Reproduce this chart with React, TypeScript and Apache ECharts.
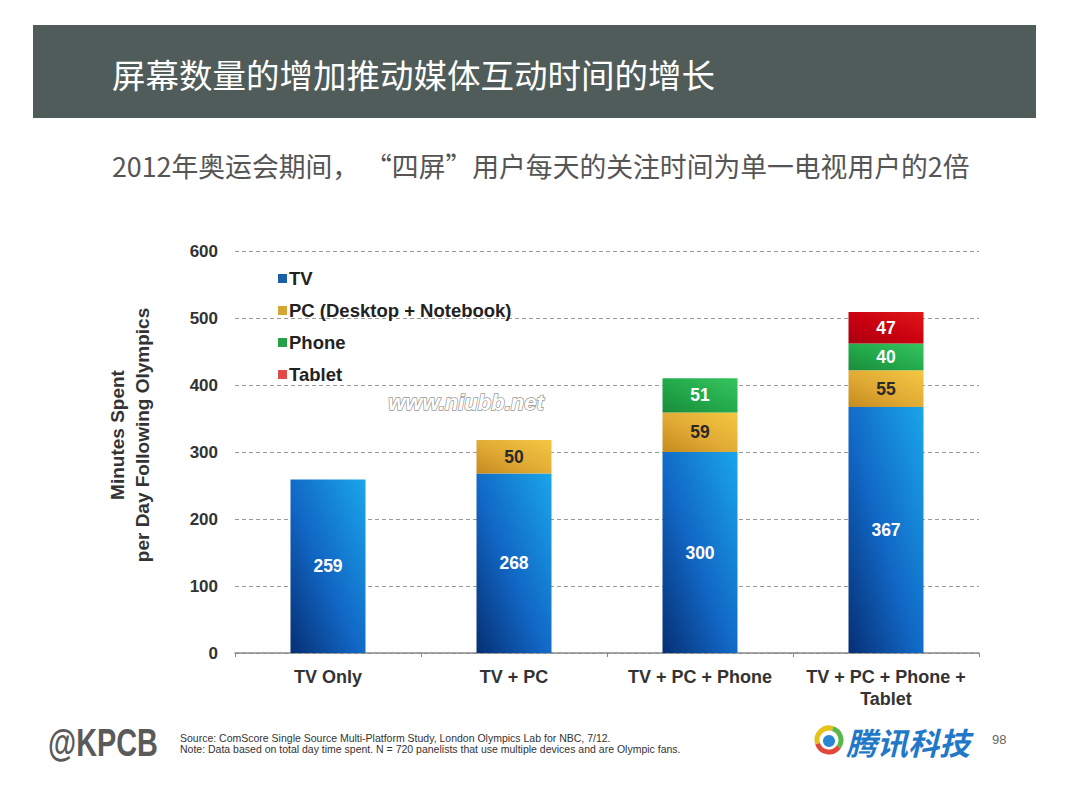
import React, { useEffect, useRef } from "react";
import * as echarts from "echarts";

const categories = ["TV Only", "TV + PC", "TV + PC + Phone", "TV + PC + Phone +\nTablet"];
const tvValues = [259, 268, 300, 367];
const pcValues = [null, 50, 59, 55];
const phoneValues = [null, null, 51, 40];
const tabletValues = [null, null, null, 47];
const seriesNames = ["TV", "PC (Desktop + Notebook)", "Phone", "Tablet"];
const yTicks = { min: 0, max: 600, interval: 100 };

const FONT = "'Liberation Sans', Arial, sans-serif";
const CJK = "'Noto Sans CJK SC', sans-serif";

function grad(c0: string, c1: string, c2: string) {
  return new echarts.graphic.LinearGradient(0, 1, 1, 0, [
    { offset: 0, color: c0 },
    { offset: 0.45, color: c1 },
    { offset: 1, color: c2 },
  ]);
}

export default function App() {
  const ref = useRef<HTMLDivElement>(null);
  useEffect(() => {
    if (!ref.current) return;
    const chart = echarts.init(ref.current, null, { renderer: "svg" });
    const labelBase = {
      show: true,
      position: "inside",
      fontFamily: FONT,
      fontWeight: "bold",
      fontSize: 17.5,
    };
    const mk = (name: string, data: any[], color: any, labelColor: string) => ({
      name,
      type: "bar",
      stack: "total",
      barWidth: 75,
      data,
      itemStyle: { color },
      label: { ...labelBase, color: labelColor },
      emphasis: { disabled: true },
    });
    const option: any = {
      animation: false,
      backgroundColor: "#ffffff",
      textStyle: { fontFamily: FONT },
      color: ["#1464b8", "#d8a42c", "#22a84a", "#e04040"],
      grid: { left: 235, top: 251, width: 744, height: 402 },
      legend: {
        orient: "vertical",
        left: 273,
        top: 264,
        itemWidth: 9,
        itemHeight: 9,
        itemGap: 13,
        icon: "rect",
        data: [
          { name: seriesNames[0], itemStyle: { color: "#1a5fa8" } },
          { name: seriesNames[1], itemStyle: { color: "#d6a634" } },
          { name: seriesNames[2], itemStyle: { color: "#27a04a" } },
          { name: seriesNames[3], itemStyle: { color: "#e24a4a" } },
        ],
        textStyle: {
          fontFamily: FONT,
          fontSize: 18.5,
          fontWeight: "bold",
          color: "#222",
          padding: [0, 0, 0, -3],
        },
        selectedMode: false,
      },
      xAxis: {
        type: "category",
        data: categories,
        axisLine: { lineStyle: { color: "#888", width: 1.5 } },
        axisTick: { show: true, length: 4, lineStyle: { color: "#888" } },
        axisLabel: {
          fontFamily: FONT,
          fontWeight: "bold",
          fontSize: 18,
          color: "#333",
          margin: 13,
          lineHeight: 22,
          interval: 0,
        },
      },
      yAxis: {
        type: "value",
        min: yTicks.min,
        max: yTicks.max,
        interval: yTicks.interval,
        axisLine: { show: false },
        axisTick: { show: false },
        axisLabel: {
          fontFamily: FONT,
          fontWeight: "bold",
          fontSize: 17,
          color: "#333",
          margin: 17,
        },
        splitLine: { lineStyle: { type: [4, 3], color: "#9a9a9a", width: 1 } },
      },
      series: [
        mk(seriesNames[0], tvValues, grad("#062f74", "#1166c4", "#1aa6ea"), "#ffffff"),
        mk(seriesNames[1], pcValues, grad("#c48a1e", "#e0aa34", "#f4c842"), "#2a2a2a"),
        mk(seriesNames[2], phoneValues, grad("#1a8c3a", "#22a84a", "#36c45e"), "#ffffff"),
        mk(seriesNames[3], tabletValues, grad("#a80010", "#c80010", "#e01818"), "#ffffff"),
      ],
      graphic: [
        { type: "rect", shape: { x: 33, y: 25, width: 1003, height: 93 }, style: { fill: "#505c59" } },
        {
          type: "text",
          x: 112,
          y: 73,
          style: {
            text: "屏幕数量的增加推动媒体互动时间的增长",
            fill: "#ffffff",
            font: `33.5px ${CJK}`,
            textVerticalAlign: "middle",
          },
        },
        {
          type: "text",
          x: 112,
          y: 165,
          style: {
            text: "2012年奥运会期间， “四屏”用户每天的关注时间为单一电视用户的2倍",
            fill: "#555555",
            font: `26.8px ${CJK}`,
            textVerticalAlign: "middle",
          },
        },
        {
          type: "text",
          x: 130,
          y: 435,
          rotation: Math.PI / 2,
          style: {
            text: "Minutes Spent\nper Day Following Olympics",
            fill: "#333",
            font: `bold 19px ${FONT}`,
            textAlign: "center",
            textVerticalAlign: "middle",
            lineHeight: 25,
          },
        },
        {
          type: "text",
          x: 466,
          y: 402,
          style: {
            text: "www.niubb.net",
            fill: "#ffffff",
            stroke: "#9a9a9a",
            lineWidth: 1.5,
            font: `italic bold 22px ${FONT}`,
            textAlign: "center",
            textVerticalAlign: "middle",
          },
        },
        {
          type: "text",
          x: 48,
          y: 742,
          scaleX: 0.76,
          style: {
            text: "@KPCB",
            fill: "#5a5a5a",
            font: `bold 38px ${FONT}`,
            textVerticalAlign: "middle",
          },
        },
        {
          type: "text",
          x: 180,
          y: 738,
          style: {
            text: "Source: ComScore Single Source Multi-Platform Study, London Olympics Lab for NBC, 7/12.",
            fill: "#333",
            font: `10.5px ${FONT}`,
            textVerticalAlign: "middle",
          },
        },
        {
          type: "text",
          x: 180,
          y: 749,
          style: {
            text: "Note: Data based on total day time spent. N = 720 panelists that use multiple devices and are Olympic fans.",
            fill: "#333",
            font: `10.5px ${FONT}`,
            textVerticalAlign: "middle",
          },
        },
        { type: "arc", shape: { cx: 829, cy: 740, r: 12, startAngle: Math.PI * 0.9, endAngle: Math.PI * 1.6 }, style: { stroke: "#e6c21a", lineWidth: 5, fill: "none" } },
        { type: "arc", shape: { cx: 829, cy: 740, r: 12, startAngle: Math.PI * 1.6, endAngle: Math.PI * 2.2 }, style: { stroke: "#59b848", lineWidth: 5, fill: "none" } },
        { type: "arc", shape: { cx: 829, cy: 740, r: 12, startAngle: Math.PI * 0.2, endAngle: Math.PI * 0.9 }, style: { stroke: "#e2483a", lineWidth: 5, fill: "none" } },
        { type: "circle", shape: { cx: 829, cy: 741, r: 6 }, style: { fill: "#2a88d0" } },
        {
          type: "text",
          x: 846,
          y: 741,
          style: {
            text: "腾讯科技",
            fill: "#1f78c8",
            font: `italic bold 31px ${CJK}`,
            textVerticalAlign: "middle",
          },
        },
        {
          type: "text",
          x: 992,
          y: 739,
          style: { text: "98", fill: "#666", font: `13px ${FONT}`, textVerticalAlign: "middle" },
        },
      ],
    };
    chart.setOption(option);
    return () => chart.dispose();
  }, []);
  return <div ref={ref} style={{ width: 1069, height: 802, position: "absolute", left: 0, top: 0 }} />;
}
